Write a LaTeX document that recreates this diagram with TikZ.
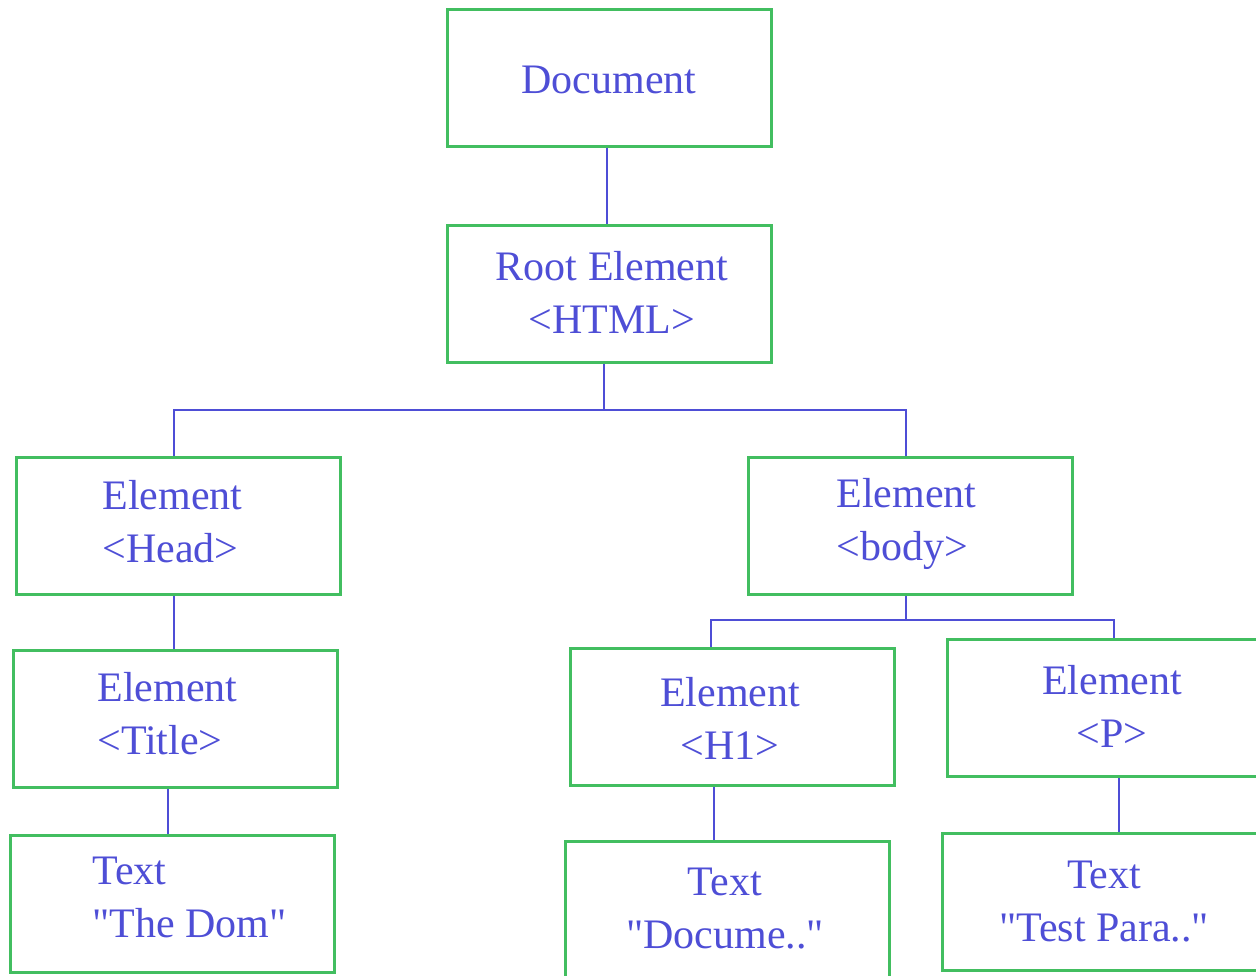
\documentclass[tikz,border=0pt]{standalone}
\usepackage{fontspec}
\setmainfont{Liberation Serif}[Ligatures=TeXOff]
\usepackage{tikz}
\definecolor{boxgreen}{RGB}{66,190,96}
\definecolor{domblue}{RGB}{78,78,214}
\tikzset{
	domnode/.style={draw=boxgreen,line width=1.5pt,rectangle,minimum width=162pt,minimum height=68.5pt,inner sep=0},
	domtext/.style={text=domblue,inner sep=0,font=\fontsize{21}{26.5}\selectfont},
	domlink/.style={draw=domblue,line width=1.3pt}
}

\begin{document}
\begin{tikzpicture}
	\begin{scope}[x=0.5pt,y=-0.5pt]
		\useasboundingbox (0,0) rectangle (1256,975);
		\clip (0,0) rectangle (1256,975);
		\node[domnode] (doc) at (609,77.5) {};
		\node[domnode] (root) at (609,294) {};
		\node[domnode] (head) at (178,525.5) {};
		\node[domnode] (body) at (910,525.5) {};
		\node[domnode] (title) at (175,719) {};
		\node[domnode] (h1) at (732.5,716.5) {};
		\node[domnode] (p) at (1109,708) {};
		\node[domnode] (dom) at (172.5,904) {};
		\node[domnode] (docume) at (727.5,909.5) {};
		\node[domnode] (para) at (1104,901.5) {};
		\node[domtext] (doctext) at (609,80) {Document};
		\node[domtext,align=center] (roottext) at (612,292) {Root Element\\<HTML>};
		\node[domtext,align=left,anchor=west] (headtext) at (102,522) {Element\\<Head>};
		\node[domtext,align=left,anchor=west] (bodytext) at (836,524) {Element\\<body>};
		\node[domtext,align=left,anchor=west] (titletext) at (97,714) {Element\\<Title>};
		\node[domtext,align=center] (h1text) at (730,718) {Element\\<H1>};
		\node[domtext,align=center] (ptext) at (1112,706) {Element\\<P>};
		\node[domtext,align=left,anchor=west] (domtext) at (92,897) {Text\\"The Dom"};
		\node[domtext,align=center] (documetext) at (725,909) {Text\\"Docume.."};
		\node[domtext,align=center] (paratext) at (1104,902) {Text\\"Test Para.."};
		\coordinate (fork1) at (604,410);
		\coordinate (fork2) at (906,620);
		\draw[domlink] ([xshift=-1pt]doc.south) -- ([xshift=-1pt]root.north);
		\draw[domlink] (root.south -| fork1) -- (fork1);
		\draw[domlink] ([xshift=-2pt]head.north) |- (fork1) -| ([xshift=-2pt]body.north);
		\draw[domlink] ([xshift=-2pt]head.south) -- ([xshift=-2pt]head.south |- title.north);
		\draw[domlink] (body.south -| fork2) -- (fork2);
		\draw[domlink] ([xshift=-10.75pt]h1.north) |- (fork2) -| ([xshift=2.5pt]p.north);
		\draw[domlink] ([xshift=-3.5pt]title.south) -- ([xshift=-3.5pt]title.south |- dom.north);
		\draw[domlink] ([xshift=-9.25pt]h1.south) -- ([xshift=-9.25pt]h1.south |- docume.north);
		\draw[domlink] ([xshift=5pt]p.south) -- ([xshift=5pt]p.south |- para.north);
	\end{scope}
\end{tikzpicture}
\end{document}
